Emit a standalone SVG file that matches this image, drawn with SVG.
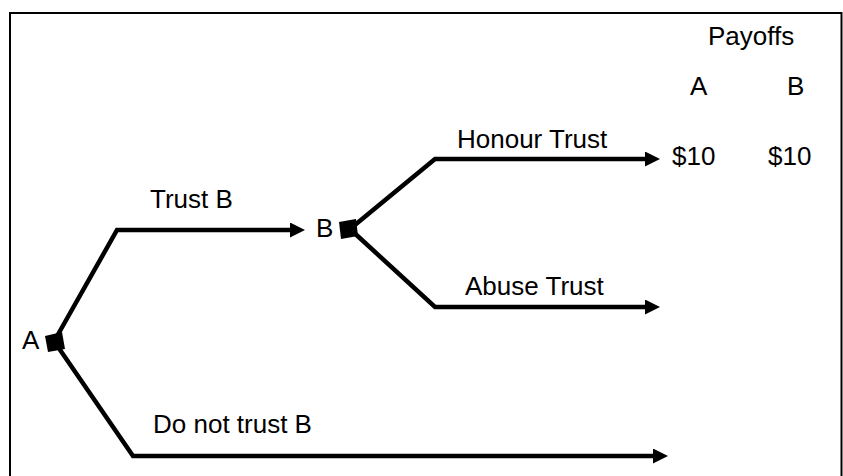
<svg xmlns="http://www.w3.org/2000/svg" width="843" height="476" viewBox="0 0 843 476">
<style>
  text { font-family: "Liberation Sans", Arial, sans-serif; font-size: 26px; fill: #000; }
  .edge { fill: none; stroke: #000; stroke-width: 4.5; stroke-linejoin: miter; }
  .frame { fill: none; stroke: #000; stroke-width: 2; }
</style>
<defs>
  <marker id="arr" markerUnits="userSpaceOnUse" markerWidth="16" markerHeight="16" refX="5" refY="7.5" orient="auto">
    <path d="M0,0 L15,7.5 L0,15 Z" fill="#000"/>
  </marker>
</defs>
<path class="frame" d="M10,477 V13 H841.5 V477"/>
<g id="connectors">
  <path class="edge" d="M56,338 L117,230 H295" marker-end="url(#arr)"/>
  <path class="edge" d="M56,344 L133,456 H658" marker-end="url(#arr)"/>
  <path class="edge" d="M350,229 L435,159 H650" marker-end="url(#arr)"/>
  <path class="edge" d="M350,229 L435,307 H650" marker-end="url(#arr)"/>
  <text x="150" y="208">Trust B</text>
  <text x="153" y="433">Do not trust B</text>
  <text x="457" y="148">Honour Trust</text>
  <text x="465" y="295">Abuse Trust</text>
</g>
<g id="nodeA">
  <polygon points="45,336 62,332 65,349 48,352" fill="#000"/>
  <text x="22" y="349">A</text>
</g>
<g id="nodeB">
  <polygon points="339,222 356,219 358,236 341,239" fill="#000"/>
  <text x="316" y="237">B</text>
</g>
<g id="payoffs">
  <text x="708" y="45">Payoffs</text>
  <text x="690" y="95">A</text>
  <text x="787" y="95">B</text>
  <text x="672" y="165">$10</text>
  <text x="768" y="165">$10</text>
</g>
</svg>
